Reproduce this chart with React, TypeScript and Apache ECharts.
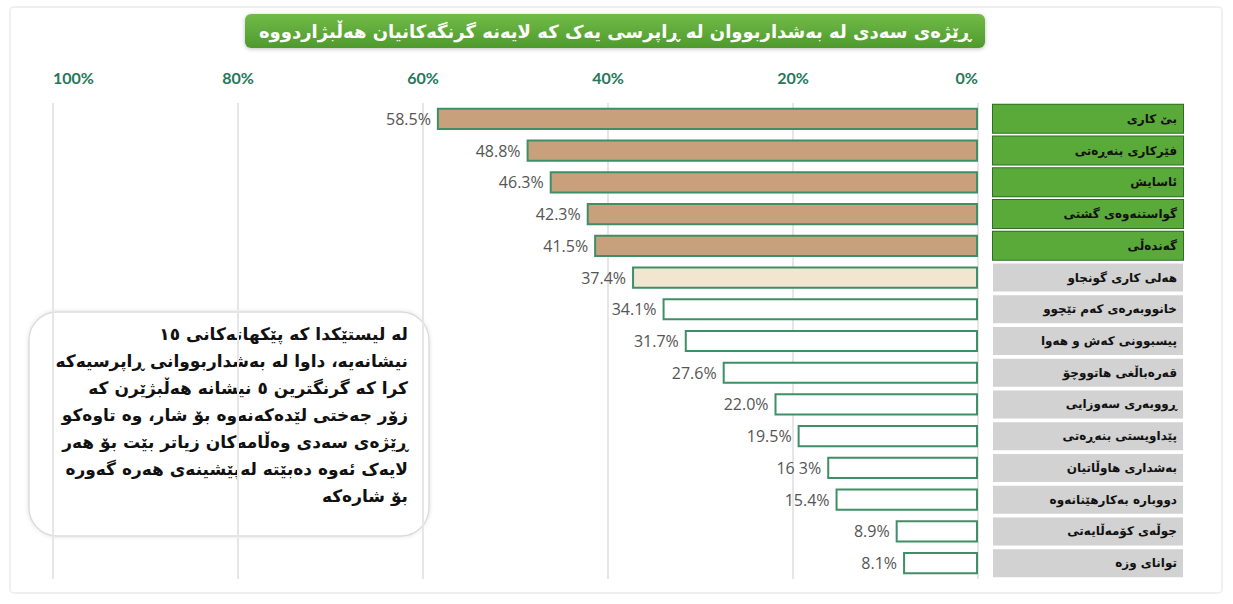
import React, { useEffect, useRef } from "react";
import * as echarts from "echarts";

const categories = [
  "بێ کاری",
  "فێرکاری بنەڕەتی",
  "ئاسایش",
  "گواستنەوەی گشتی",
  "گەندەڵی",
  "هەلی کاری گونجاو",
  "خانووبەرەی کەم تێچوو",
  "پیسبوونی کەش و هەوا",
  "قەرەباڵغی هاتووچۆ",
  "ڕووبەری سەوزایی",
  "پێداویستی بنەڕەتی",
  "بەشداری هاوڵاتیان",
  "دووبارە بەکارهێنانەوە",
  "جوڵەی کۆمەڵایەتی",
  "توانای وزە",
];
const values = [58.5, 48.8, 46.3, 42.3, 41.5, 37.4, 34.1, 31.7, 27.6, 22.0, 19.5, 16.3, 15.4, 8.9, 8.1];
const valueLabels = ["58.5%", "48.8%", "46.3%", "42.3%", "41.5%", "37.4%", "34.1%", "31.7%", "27.6%", "22.0%", "19.5%", "16 3%", "15.4%", "8.9%", "8.1%"];
const topCount = 5;
const titleText = "ڕێژەی سەدی لە بەشداربووان لە ڕاپرسی یەک کە لایەنە گرنگەکانیان هەڵبژاردووە";
const noteLines = [
  "لە لیستێکدا کە پێکهاتەکانی ١٥",
  "نیشانەیە، داوا لە بەشداربووانی ڕاپرسیەکە",
  "کرا کە گرنگترین ٥ نیشانە هەڵبژێرن کە",
  "زۆر جەختی لێدەکەنەوە بۆ شار، وە تاوەکو",
  "ڕێژەی سەدی وەڵامەکان زیاتر بێت بۆ هەر",
  "لایەک ئەوە دەبێتە لەپێشینەی هەرە گەورە",
  "بۆ شارەکە",
];

const arFont = "'DejaVu Sans', sans-serif";

export default function App() {
  const ref = useRef<HTMLDivElement>(null);
  useEffect(() => {
    if (!ref.current) return;
    const chart = echarts.init(ref.current, undefined, { renderer: "svg" });
    chart.setOption({
      animation: false,
      backgroundColor: "#ffffff",
      grid: { left: 53, right: 255, top: 103, bottom: 25, containLabel: false },
      xAxis: {
        type: "value",
        inverse: true,
        position: "top",
        min: 0,
        max: 100,
        interval: 20,
        axisLine: { show: false },
        axisTick: { show: false },
        axisLabel: {
          formatter: "{value}%",
          color: "#24775a",
          fontWeight: "bold",
          fontSize: 16,
          fontFamily: "Lato, sans-serif",
          margin: 18,
          alignMinLabel: "right",
          alignMaxLabel: "left",
        },
        splitLine: { show: true, lineStyle: { color: "#e6e6e6", width: 2 } },
      },
      yAxis: {
        type: "category",
        data: categories,
        inverse: true,
        position: "right",
        axisLine: { show: false },
        axisTick: { show: false },
        axisLabel: {
          margin: 15,
          align: "left",
          formatter: (v: string, i: number) => (i < topCount ? `{g|${v}}` : `{r|${v}}`),
          rich: {
            g: {
              width: 178,
              height: 28,
              align: "right",
              padding: [0, 6, 0, 6],
              backgroundColor: "#5aaa3a",
              borderColor: "#2f6e25",
              borderWidth: 1,
              color: "#111",
              fontWeight: "bold",
              fontSize: 12,
              fontFamily: arFont,
            },
            r: {
              width: 178,
              height: 28,
              align: "right",
              padding: [0, 6, 0, 6],
              backgroundColor: "#d2d2d2",
              color: "#111",
              fontWeight: "bold",
              fontSize: 12,
              fontFamily: arFont,
            },
          },
        },
      },
      series: [
        {
          type: "bar",
          data: values,
          barCategoryGap: "30%",
          itemStyle: {
            color: (p: any) => (p.dataIndex < topCount ? "#c8a07c" : p.dataIndex === topCount ? "#f1e6d0" : "#ffffff"),
            borderColor: "#3f8f66",
            borderWidth: 2,
          },
          label: {
            show: true,
            position: "left",
            distance: 6,
            formatter: (p: any) => valueLabels[p.dataIndex],
            color: "#555",
            fontSize: 16,
            fontFamily: "'Open Sans', sans-serif",
          },
        },
      ],
      graphic: [
        {
          type: "rect",
          z: -10,
          silent: true,
          shape: { x: 10, y: 7, width: 1212, height: 586, r: 4 },
          style: { fill: "none", stroke: "#ececec", lineWidth: 1.5 },
        },
        {
          type: "group",
          z: 10,
          children: [
            {
              type: "rect",
              shape: { x: 245, y: 14, width: 740, height: 34, r: 6 },
              style: {
                fill: new echarts.graphic.LinearGradient(0, 0, 0, 1, [
                  { offset: 0, color: "#72bb48" },
                  { offset: 1, color: "#4e9a2d" },
                ]),
                shadowBlur: 4,
                shadowColor: "rgba(0,0,0,0.25)",
                shadowOffsetY: 1,
              },
            },
            {
              type: "text",
              x: 615,
              y: 31,
              style: {
                text: titleText,
                fill: "#ffffff",
                fontSize: 18,
                fontWeight: "bold",
                fontFamily: arFont,
                align: "center",
                verticalAlign: "middle",
              },
            },
          ],
        },
        {
          type: "group",
          z: 10,
          children: [
            {
              type: "rect",
              shape: { x: 29, y: 312, width: 400, height: 224, r: 28 },
              style: {
                fill: "#ffffff",
                stroke: "#dcdcdc",
                lineWidth: 1.5,
                shadowBlur: 4,
                shadowColor: "rgba(0,0,0,0.12)",
              },
            },
            {
              type: "text",
              x: 408,
              y: 320,
              style: {
                text: noteLines.join("\n"),
                fill: "#111",
                fontSize: 17,
                fontWeight: "bold",
                lineHeight: 27,
                fontFamily: arFont,
                align: "right",
                verticalAlign: "top",
              },
            },
          ],
        },
      ],
    });
    return () => chart.dispose();
  }, []);
  return <div ref={ref} style={{ width: 1233, height: 604, position: "absolute", left: 0, top: 0 }} />;
}
